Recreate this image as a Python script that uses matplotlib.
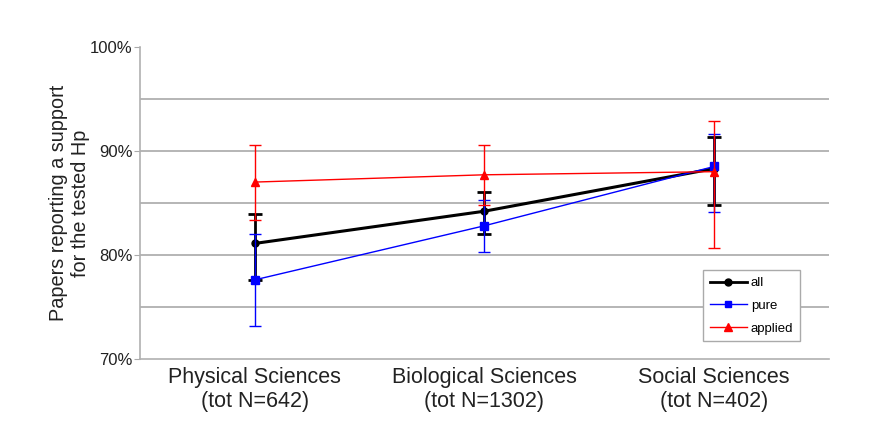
import numpy as np
import matplotlib.pyplot as plt
from matplotlib.lines import Line2D

plt.rcParams['font.family'] = ['Liberation Sans', 'DejaVu Sans']

categories = ["Physical Sciences\n(tot N=642)", "Biological Sciences\n(tot N=1302)",
              "Social Sciences\n(tot N=402)"]

# values in %, with lower / upper ends of the error bars
all_vals = [81.1, 84.2, 88.3]
all_low = [77.6, 82.0, 84.8]
all_high = [83.9, 86.0, 91.3]

pure_vals = [77.6, 82.8, 88.5]
pure_low = [73.2, 80.3, 84.1]
pure_high = [82.0, 85.3, 91.6]

applied_vals = [87.0, 87.7, 88.0]
applied_low = [83.4, 84.8, 80.7]
applied_high = [90.6, 90.6, 92.9]


def yerr(vals, low, high):
    v = np.array(vals)
    return [v - np.array(low), np.array(high) - v]


fig = plt.figure(figsize=(8.69, 4.42), dpi=100)
ax = fig.add_axes([0.161, 0.188, 0.793, 0.706])

x = np.arange(len(categories))

ax.errorbar(x, all_vals, yerr=yerr(all_vals, all_low, all_high), color='black',
            marker='o', markersize=5, lw=2.2, elinewidth=2, capsize=5, capthick=2, zorder=3)
ax.errorbar(x, pure_vals, yerr=yerr(pure_vals, pure_low, pure_high), color='#0000ff',
            marker='s', markersize=6, lw=1, elinewidth=1, capsize=4.5, zorder=4)
ax.errorbar(x, applied_vals, yerr=yerr(applied_vals, applied_low, applied_high), color='#ff0000',
            marker='^', markersize=6, lw=1, elinewidth=1, capsize=4.5, zorder=5)

ax.set_xlim(-0.5, 2.5)
ax.set_ylim(70, 100)
ax.set_yticks([70, 80, 90, 100])
ax.set_yticklabels(['70%', '80%', '90%', '100%'], fontsize=12, color='#222222')
ax.set_xticks(x)
ax.set_xticklabels(categories, fontsize=15.5, color='#222222')
ax.tick_params(axis='x', length=0, pad=6)
ax.tick_params(axis='y', length=4, color='#aaaaaa', pad=1.5)

for y in [75, 80, 85, 90, 95]:
    ax.axhline(y, color='#b0b0b0', lw=1.3, zorder=1)

for s in ['top', 'right']:
    ax.spines[s].set_visible(False)
for s in ['left', 'bottom']:
    ax.spines[s].set_color('#b0b0b0')
    ax.spines[s].set_linewidth(1.2)

ax.set_ylabel("Papers reporting a support\nfor the tested Hp", fontsize=14.3, color='#222222',
              labelpad=0)

handles = [
    Line2D([], [], color='black', lw=2, marker='o', markersize=5),
    Line2D([], [], color='#0000ff', lw=1, marker='s', markersize=5),
    Line2D([], [], color='#ff0000', lw=1, marker='^', markersize=6),
]
ax.legend(handles, ['all', 'pure', 'applied'],
          loc='lower left', bbox_to_anchor=(0.808, 0.035), fontsize=9.5,
          fancybox=False, framealpha=1, edgecolor='#aaaaaa', handlelength=2.8,
          borderpad=0.5, labelspacing=0.8, handletextpad=0.3)

fig.savefig('out.png', dpi=100)
